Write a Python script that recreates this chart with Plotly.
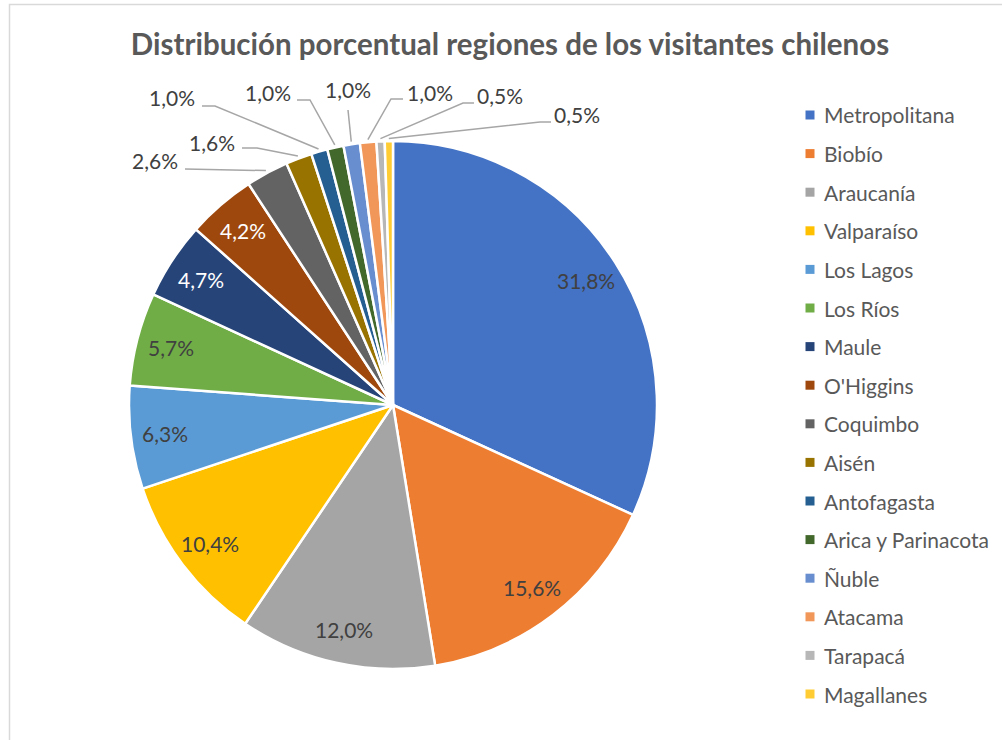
import math
import plotly.graph_objects as go

# ---------------- data ----------------
regions = ["Metropolitana", "Biobío", "Araucanía", "Valparaíso", "Los Lagos", "Los Ríos",
           "Maule", "O'Higgins", "Coquimbo", "Aisén", "Antofagasta", "Arica y Parinacota",
           "Ñuble", "Atacama", "Tarapacá", "Magallanes"]
percent = [31.8, 15.6, 12.0, 10.4, 6.3, 5.7, 4.7, 4.2, 2.6, 1.6, 1.0, 1.0, 1.0, 1.0, 0.5, 0.5]
title_text = "Distribución porcentual regiones de los visitantes chilenos"

# ---------------- styles ----------------
colors = ["#4472C4", "#ED7D31", "#A5A5A5", "#FFC000", "#5B9BD5", "#70AD47", "#264478",
          "#9E480E", "#636363", "#997300", "#255E91", "#43682B", "#698ED0", "#F1975A",
          "#B7B7B7", "#FFCD33"]
light_text = {"Maule", "O'Higgins"}
FONT = "Lato"
W, H = 1002, 740
OFF = 0                            # page body margin (removed via post_script)
CX, CY, R = 393, 405, 264          # pie centre / radius in pixels (screen)
INSIDE_K = 0.87                    # label radius factor for inside labels

# outside labels: label centre, leader-line start/elbow points (pixels)
outside_layout = {
    "Coquimbo":           dict(label=(155, 160), pts=[(185, 169)]),
    "Aisén":              dict(label=(212, 142), pts=[(242, 148), (257, 148)]),
    "Antofagasta":        dict(label=(172, 98),  pts=[(202, 106), (215, 106)]),
    "Arica y Parinacota": dict(label=(268, 93),  pts=[(297, 100), (310, 100)]),
    "Ñuble":              dict(label=(348, 90),  pts=[(348, 110)]),
    "Atacama":            dict(label=(430, 92),  pts=[(403, 99), (391, 99)]),
    "Tarapacá":           dict(label=(500, 95),  pts=[(474, 103), (463, 103)]),
    "Magallanes":         dict(label=(577, 115), pts=[(551, 122), (540, 122)]),
}


def px(x):
    return (x - OFF) / W


def py(y):
    return 1 - (y - OFF) / H


def fmt(v):
    return f"{v:.1f}%".replace(".", ",")


fig = go.Figure(go.Pie(
    labels=regions,
    values=percent,
    sort=False,
    direction="clockwise",
    rotation=0,
    textinfo="none",
    marker=dict(colors=colors, line=dict(color="white", width=2.5)),
    domain=dict(x=[px(CX - R), px(CX + R)], y=[py(CY + R), py(CY - R)]),
    showlegend=False,
    hovertemplate="%{label}: %{value}%<extra></extra>",
))

annotations = []
shapes = []
total = sum(percent)
cum = 0.0
for name, v, c in zip(regions, percent, colors):
    mid = (cum + v / 2) / total * 2 * math.pi
    cum += v
    sx, sy = math.sin(mid), -math.cos(mid)
    if name in outside_layout:
        lay = outside_layout[name]
        lx, ly = lay["label"]
        annotations.append(dict(x=px(lx), y=py(ly), xref="paper", yref="paper",
                                text=fmt(v), showarrow=False, xanchor="center", yanchor="middle",
                                font=dict(family=FONT, size=21, color="#404040")))
        ex, ey = CX + 1.01 * R * sx, CY + 1.01 * R * sy
        pts = lay["pts"] + [(ex, ey)]
        path = "M " + " L ".join(f"{px(x):.5f},{py(y):.5f}" for x, y in pts)
        shapes.append(dict(type="path", path=path, xref="paper", yref="paper",
                           line=dict(color="#A6A6A6", width=1.5)))
    else:
        lx, ly = CX + INSIDE_K * R * sx, CY + INSIDE_K * R * sy
        annotations.append(dict(x=px(lx), y=py(ly), xref="paper", yref="paper",
                                text=fmt(v), showarrow=False, xanchor="center", yanchor="middle",
                                font=dict(family=FONT, size=21,
                                          color="white" if name in light_text else "#404040")))

# legend (manual, one row per region)
LEG_X, LEG_Y0, LEG_DY, SQ = 810, 115, 38.6, 9
for i, (name, c) in enumerate(zip(regions, colors)):
    yy = LEG_Y0 + i * LEG_DY
    shapes.append(dict(type="rect", xref="paper", yref="paper",
                       x0=px(LEG_X - SQ / 2), x1=px(LEG_X + SQ / 2),
                       y0=py(yy + SQ / 2), y1=py(yy - SQ / 2),
                       fillcolor=c, line=dict(width=0)))
    annotations.append(dict(x=px(LEG_X + 12), y=py(yy), xref="paper", yref="paper",
                            text=name, showarrow=False, xanchor="left", yanchor="middle",
                            font=dict(family=FONT, size=21, color="#595959")))

# chart frame
shapes.append(dict(type="rect", xref="paper", yref="paper",
                   x0=px(9.5), x1=px(1020), y0=py(760), y1=py(4.5),
                   line=dict(color="#D9D9D9", width=1.5), fillcolor="rgba(0,0,0,0)"))

fig.update_layout(
    width=W, height=H,
    margin=dict(l=0, r=0, t=0, b=0),
    paper_bgcolor="white",
    title=dict(text=f"<b>{title_text}</b>", x=px(510), y=py(45), xanchor="center",
               yanchor="middle", font=dict(family=FONT, size=29.5, color="#595959")),
    annotations=annotations,
    shapes=shapes,
)

fig.write_html("out.html", config={"displayModeBar": False},
               post_script="document.body.style.margin='0';")
